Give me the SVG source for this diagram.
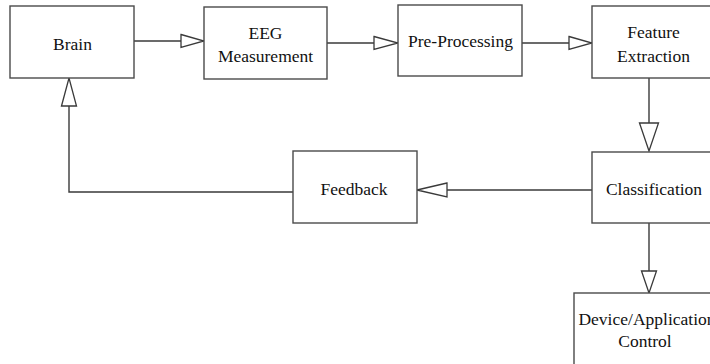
<svg xmlns="http://www.w3.org/2000/svg" width="710" height="364" viewBox="0 0 710 364">
<style>
.box{fill:#fff;stroke:#4a4a4a;stroke-width:1.4}
.ln{fill:none;stroke:#3a3a3a;stroke-width:1.4}
.head{fill:#fff;stroke:#3a3a3a;stroke-width:1.3;stroke-linejoin:miter}
text{font-family:"Liberation Serif","Times New Roman",serif;font-size:17.5px;fill:#111;text-anchor:middle}
</style>
<rect width="710" height="364" fill="#fff"/>
<g id="connectors">
<line class="ln" x1="134" y1="41" x2="181" y2="41"/>
<polygon class="head" points="181,34.5 204,41 181,47.5"/>
<line class="ln" x1="327" y1="43" x2="374" y2="43"/>
<polygon class="head" points="374,36.5 398,43 374,49.5"/>
<line class="ln" x1="522" y1="43" x2="569" y2="43"/>
<polygon class="head" points="569,36.5 592,43 569,49.5"/>
<line class="ln" x1="649" y1="78" x2="649" y2="123"/>
<polygon class="head" points="639.5,123 649,151 658.5,123"/>
<line class="ln" x1="592" y1="190" x2="447" y2="190"/>
<polygon class="head" points="447,183 417,190 447,197"/>
<polyline class="ln" points="293,192 69,192 69,106"/>
<polygon class="head" points="61.5,106 69,78 76.5,106"/>
<line class="ln" x1="649" y1="223" x2="649" y2="271"/>
<polygon class="head" points="641.5,271 649,293 656.5,271"/>
</g>
<g id="brain">
<rect class="box" x="10" y="6" width="124" height="72"/>
<text x="72.5" y="50">Brain</text>
</g>
<g id="eeg">
<rect class="box" x="204" y="7" width="123" height="72"/>
<text x="265.5" y="39">EEG</text>
<text x="265.5" y="62">Measurement</text>
</g>
<g id="preprocessing">
<rect class="box" x="398" y="5" width="124" height="71"/>
<text x="460.5" y="46.5">Pre-Processing</text>
</g>
<g id="feature">
<rect class="box" x="592" y="6" width="124" height="72"/>
<text x="653.5" y="37.5">Feature</text>
<text x="653.5" y="61.5">Extraction</text>
</g>
<g id="classification">
<rect class="box" x="592" y="152" width="124" height="71"/>
<text x="654" y="195">Classification</text>
</g>
<g id="feedback">
<rect class="box" x="293" y="151" width="124" height="72"/>
<text x="354" y="195">Feedback</text>
</g>
<g id="device">
<rect class="box" x="574" y="293" width="148" height="80"/>
<text x="647" y="325">Device/Application</text>
<text x="645" y="347">Control</text>
</g>
</svg>
